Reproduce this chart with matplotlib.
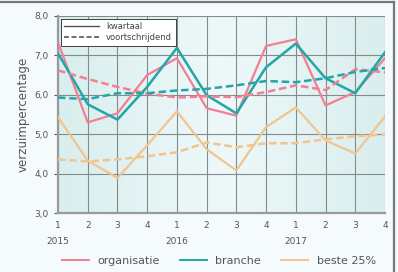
import numpy as np
import matplotlib
matplotlib.use("Agg")
import matplotlib.pyplot as plt
from matplotlib.lines import Line2D
from matplotlib.colors import LinearSegmentedColormap

quarters = ['1', '2', '3', '4'] * 3
years = ['2015', '2016', '2017']

# kwartaal values
organisatie = [7.33, 5.30, 5.53, 6.50, 6.93, 5.66, 5.47, 7.24, 7.41, 5.73, 6.07, 6.93]
branche = [7.05, 5.76, 5.37, 6.20, 7.19, 5.99, 5.53, 6.70, 7.30, 6.42, 6.04, 7.08]
beste25 = [5.43, 4.33, 3.89, 4.72, 5.58, 4.62, 4.08, 5.18, 5.68, 4.84, 4.51, 5.45]

# voortschrijdend values
organisatie_vs = [6.62, 6.40, 6.20, 6.03, 5.93, 5.96, 5.94, 6.07, 6.24, 6.12, 6.65, 6.57]
branche_vs = [5.93, 5.89, 6.04, 6.04, 6.11, 6.15, 6.24, 6.35, 6.32, 6.42, 6.58, 6.68]
beste25_vs = [4.36, 4.31, 4.36, 4.44, 4.54, 4.79, 4.67, 4.77, 4.77, 4.87, 4.95, 4.99]

c_org = "#f27f92"
c_br = "#22a6a6"
c_b25 = "#f2c48e"
grey = "#555555"

plt.rcParams['font.family'] = ['DejaVu Sans']

fig = plt.figure(figsize=(3.98, 2.72), dpi=100)
fig.patch.set_facecolor("#f5fafc")
ax = fig.add_axes([58 / 398, 1 - 213 / 272, 327 / 398, 197 / 272])

x = np.arange(len(quarters))

# soft gradient background of the plot area
grad = np.abs(np.linspace(-1, 1, 200))[None, :]
cmap_bg = LinearSegmentedColormap.from_list("bg", ["#eef8f9", "#d9eeee"])
ax.imshow(grad, extent=[0, 11, 3, 8], aspect='auto', cmap=cmap_bg, zorder=0)

ax.plot(x, organisatie, color=c_org, lw=1.6, zorder=3)
ax.plot(x, branche, color=c_br, lw=1.8, zorder=3)
ax.plot(x, beste25, color=c_b25, lw=1.6, zorder=3)
ax.plot(x, organisatie_vs, color=c_org, lw=1.8, ls=(0, (3, 1.5)), zorder=3)
ax.plot(x, branche_vs, color=c_br, lw=1.8, ls=(0, (3, 1.5)), zorder=3)
ax.plot(x, beste25_vs, color=c_b25, lw=1.8, ls=(0, (3, 1.5)), zorder=3)

ax.set_xlim(0, 11)
ax.set_ylim(3, 8)
ax.set_xticks(x)
ax.set_xticklabels(quarters)
ax.set_yticks([3, 4, 5, 6, 7, 8])
ax.set_yticklabels(['3,0', '4,0', '5,0', '6,0', '7,0', '8,0'])
ax.tick_params(labelsize=6.5, colors=grey, length=3, width=0.8, pad=4)
ax.tick_params(axis='x', length=0, pad=6)
ax.grid(True, color="#858a8b", lw=0.8, zorder=1)
ax.set_axisbelow(True)
for s in ['top', 'right']:
    ax.spines[s].set_visible(False)
for s in ['left', 'bottom']:
    ax.spines[s].set_color("#9a9a9a")
    ax.spines[s].set_linewidth(1.6)

for i, yr in enumerate(years):
    ax.text(i * 4, -0.145, yr, transform=ax.get_xaxis_transform(),
            ha='center', va='center', fontsize=6.5, color=grey)

ax.set_ylabel('verzuimpercentage', fontsize=8.5, color=grey, labelpad=3)

# inner legend for line style
style_handles = [Line2D([], [], color="#555555", lw=1.0),
                 Line2D([], [], color="#555555", lw=1.2, ls=(0, (3, 1.5)))]
leg1 = ax.legend(style_handles, ['kwartaal', 'voortschrijdend'], loc='upper left',
                 bbox_to_anchor=(0.003, 0.995), fontsize=6, frameon=True, fancybox=False,
                 edgecolor="#333333", framealpha=1, handlelength=4.2,
                 borderpad=0.45, labelspacing=0.2, handletextpad=0.8, borderaxespad=0.2)
leg1.get_frame().set_linewidth(0.6)
for t in leg1.get_texts():
    t.set_color("#444444")
ax.add_artist(leg1)

# bottom legend for series
series_handles = [Line2D([], [], color=c_org, lw=1.4),
                  Line2D([], [], color=c_br, lw=1.4),
                  Line2D([], [], color=c_b25, lw=1.4)]
leg2 = fig.legend(series_handles, ['organisatie', 'branche', 'beste 25%'], loc='center',
                  bbox_to_anchor=(0.55, 0.04), ncol=3, fontsize=8, frameon=False,
                  handlelength=2.4, columnspacing=1.8, handletextpad=0.8)
for t in leg2.get_texts():
    t.set_color("#555555")

# figure frame lines on top and right
fig.add_artist(Line2D([0, 394 / 398], [1 - 2 / 272, 1 - 2 / 272], color="#777777", lw=1.6,
                      transform=fig.transFigure))
fig.add_artist(Line2D([394 / 398, 394 / 398], [0, 1 - 2 / 272], color="#777777", lw=1.6,
                      transform=fig.transFigure))

fig.savefig("out.png", dpi=100)
